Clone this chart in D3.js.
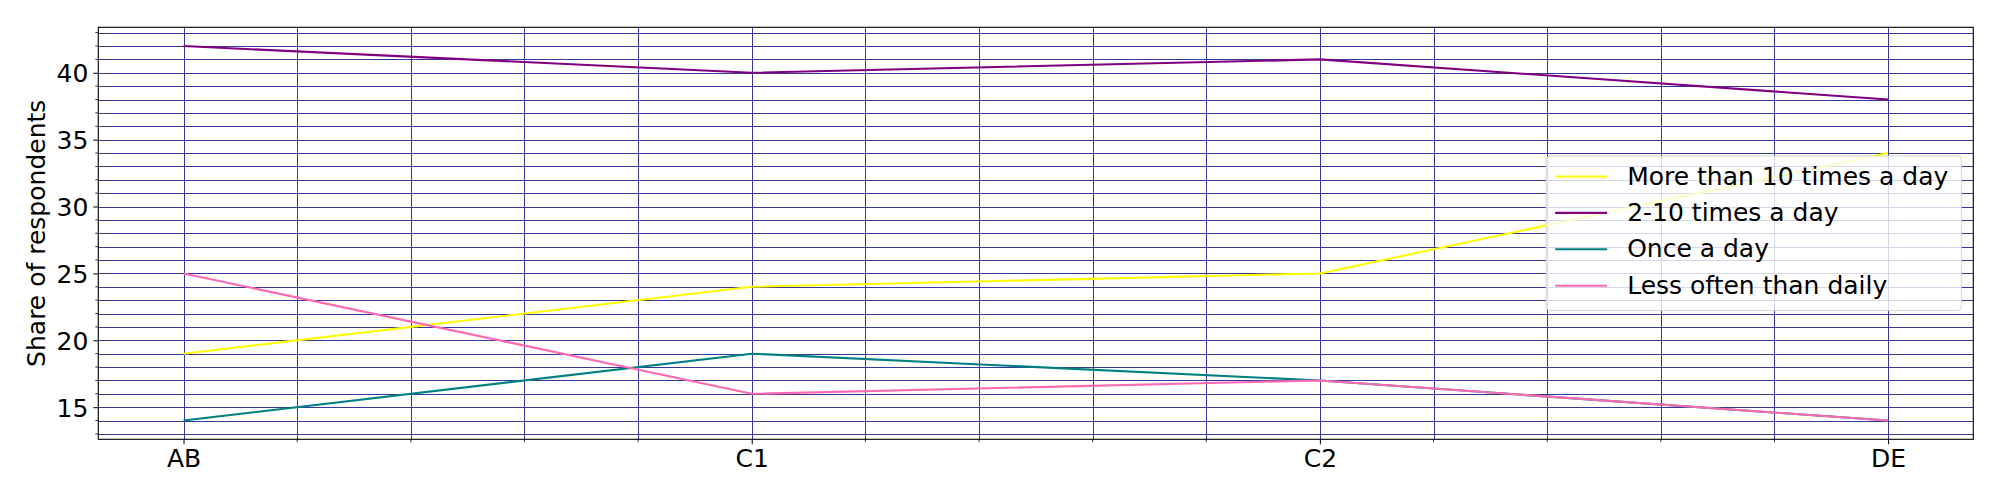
<!DOCTYPE html>
<html>
<head>
<meta charset="utf-8">
<script src="https://cdn.jsdelivr.net/npm/d3@7"></script>
<style>
  html, body { margin: 0; padding: 0; background: #ffffff; }
  svg { display: block; font-family: "DejaVu Sans", sans-serif; }
</style>
</head>
<body>
<svg id="chart" width="2000" height="500"></svg>
<script>
// ---- data ----
const categories = ["AB", "C1", "C2", "DE"];
const seriesNames = ["More than 10 times a day", "2-10 times a day", "Once a day", "Less often than daily"];
const moreThan10 = [19, 24, 25, 34];
const twoTo10 = [42, 40, 41, 38];
const onceADay = [14, 19, 17, 14];
const lessOften = [25, 16, 17, 14];
const yTicks = [15, 20, 25, 30, 35, 40];
const yLabel = "Share of respondents";
const seriesColors = ["#ffff00", "#800080", "#008080", "#ff69b4"];

const seriesValues = [moreThan10, twoTo10, onceADay, lessOften];

// ---- layout ----
const svg = d3.select("#chart");
const pLeft = 98.3, pRight = 1973.3, pTop = 27.3, pBottom = 439.3;
const gridColor = "#38389a";
const fs = 25;

const nCat = categories.length;
const allVals = seriesValues.flat();
const yMin = d3.min(allVals), yMax = d3.max(allVals);
const yPad = (yMax - yMin) * 0.05;
const xPad = (nCat - 1) * 0.05;

const x = d3.scaleLinear().domain([-xPad, nCat - 1 + xPad]).range([pLeft, pRight]);
const y = d3.scaleLinear().domain([yMin - yPad, yMax + yPad]).range([pBottom, pTop]);

// minor ticks
const xMinorOnly = d3.range(0, Math.round((nCat - 1) * 5) + 1).map(k => k / 5)
  .filter(v => Math.abs(v - Math.round(v)) > 1e-6);
const yAllGrid = d3.range(Math.ceil(y.domain()[0]), Math.floor(y.domain()[1]) + 1);
const yMinorOnly = yAllGrid.filter(v => v % 5 !== 0);
const xMajor = d3.range(nCat);

// ---- grid ----
const grid = svg.append("g").attr("shape-rendering", "crispEdges");
grid.selectAll("line.hg").data(yAllGrid).join("line")
  .attr("x1", pLeft).attr("x2", pRight)
  .attr("y1", d => Math.round(y(d)) + 0.5).attr("y2", d => Math.round(y(d)) + 0.5)
  .attr("stroke", gridColor).attr("stroke-width", 1.2);
grid.selectAll("line.vg").data(xMajor.concat(xMinorOnly)).join("line")
  .attr("y1", pTop).attr("y2", pBottom)
  .attr("x1", d => Math.round(x(d)) + 0.5).attr("x2", d => Math.round(x(d)) + 0.5)
  .attr("stroke", gridColor).attr("stroke-width", 1.2);

// ---- lines ----
const line = d3.line().x((d, i) => x(i)).y(d => y(d));
svg.append("g").selectAll("path").data(seriesValues).join("path")
  .attr("d", d => line(d))
  .attr("fill", "none")
  .attr("stroke", (d, i) => seriesColors[i])
  .attr("stroke-width", 2.1)
  .attr("stroke-linejoin", "round")
  .attr("stroke-linecap", "butt");

// ---- axes ----
const xAxis = d3.axisBottom(x).tickValues(xMajor).tickFormat(i => categories[i]).tickSize(5).tickPadding(5);
const gx = svg.append("g").attr("transform", `translate(0,${pBottom})`).call(xAxis);
gx.select(".domain").remove();
gx.selectAll(".tick line").attr("stroke", "#000").attr("stroke-width", 1);
gx.selectAll(".tick text").attr("font-size", fs + "px").attr("fill", "#000")
  .attr("font-family", "DejaVu Sans").attr("dy", "0.7em");
svg.append("g").selectAll("line").data(xMinorOnly).join("line")
  .attr("x1", d => x(d)).attr("x2", d => x(d))
  .attr("y1", pBottom).attr("y2", pBottom + 3)
  .attr("stroke", "#000").attr("stroke-width", 0.8);

const yAxis = d3.axisLeft(y).tickValues(yTicks).tickFormat(d3.format("d")).tickSize(5).tickPadding(5);
const gy = svg.append("g").attr("transform", `translate(${pLeft},0)`).call(yAxis);
gy.select(".domain").remove();
gy.selectAll(".tick line").attr("stroke", "#000").attr("stroke-width", 1);
gy.selectAll(".tick text").attr("font-size", fs + "px").attr("fill", "#000")
  .attr("font-family", "DejaVu Sans").attr("dy", "0.36em");
svg.append("g").selectAll("line").data(yMinorOnly).join("line")
  .attr("x1", pLeft - 3).attr("x2", pLeft)
  .attr("y1", d => y(d)).attr("y2", d => y(d))
  .attr("stroke", "#000").attr("stroke-width", 0.8);

// spines
svg.append("rect").attr("x", pLeft).attr("y", pTop)
  .attr("width", pRight - pLeft).attr("height", pBottom - pTop)
  .attr("fill", "none").attr("stroke", "#000").attr("stroke-width", 1.1);

// y label
svg.append("text")
  .attr("transform", `translate(36,${(pTop + pBottom) / 2}) rotate(-90)`)
  .attr("text-anchor", "middle").attr("dominant-baseline", "central")
  .attr("font-size", fs + "px").attr("fill", "#000")
  .text(yLabel);

// ---- legend (center right) ----
const leg = svg.append("g");
const rowH = 36.4;
const tmp = leg.append("g");
const widths = seriesNames.map(s => {
  const t = tmp.append("text").attr("font-size", fs + "px").text(s);
  const w = t.node().getComputedTextLength();
  t.remove();
  return w;
});
tmp.remove();
const maxW = d3.max(widths);
const boxW = 9 + 52 + 20 + maxW + 13;
const boxH = rowH * seriesNames.length + 9;
const boxRight = pRight - 12;
const boxLeft = boxRight - boxW;
const boxTop = (pTop + pBottom) / 2 - boxH / 2;
leg.append("rect").attr("x", boxLeft).attr("y", boxTop)
  .attr("width", boxW).attr("height", boxH).attr("rx", 4).attr("ry", 4)
  .attr("fill", "rgba(255,255,255,0.8)").attr("stroke", "rgba(204,204,204,0.8)").attr("stroke-width", 1);
const rows = leg.selectAll("g.row").data(seriesNames).join("g")
  .attr("transform", (d, i) => `translate(${boxLeft},${boxTop + 20.5 + i * rowH})`);
rows.append("line").attr("x1", 9).attr("x2", 61).attr("y1", 0).attr("y2", 0)
  .attr("stroke", (d, i) => seriesColors[i]).attr("stroke-width", 2.1);
rows.append("text").attr("x", 81).attr("y", 0).attr("dy", "0.32em")
  .attr("font-size", fs + "px").attr("fill", "#000").text(d => d);
</script>
</body>
</html>
